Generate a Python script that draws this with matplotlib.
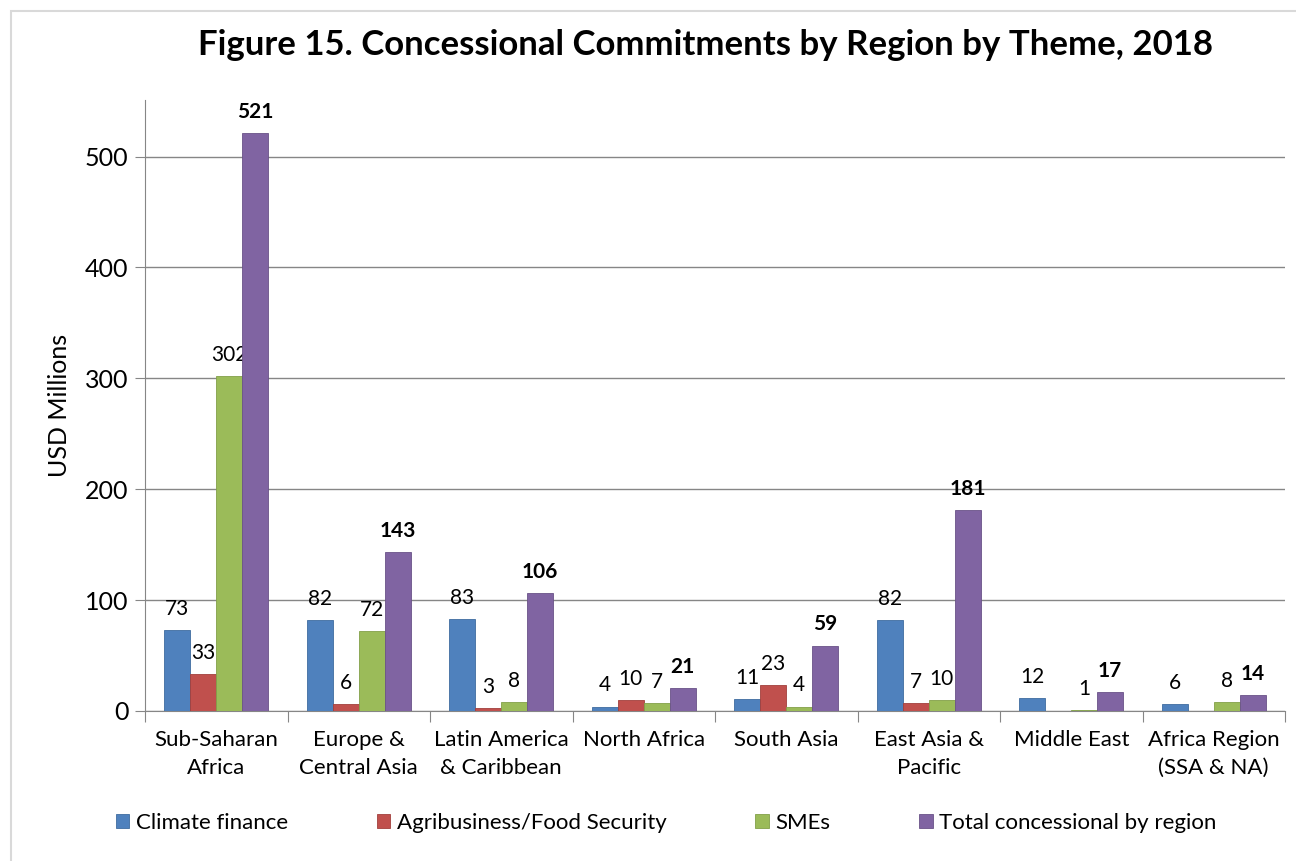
import numpy as np
from matplotlib import pyplot as plt
from matplotlib.patches import Rectangle

plt.rcParams['font.family'] = ['Lato', 'DejaVu Sans']

regions = ["Sub-Saharan\nAfrica", "Europe &\nCentral Asia", "Latin America\n& Caribbean",
           "North Africa", "South Asia", "East Asia &\nPacific", "Middle East",
           "Africa Region\n(SSA & NA)"]
series_names = ["Climate finance", "Agribusiness/Food Security", "SMEs",
                "Total concessional by region"]
climate = [73, 82, 83, 4, 11, 82, 12, 6]
agri = [33, 6, 3, 10, 23, 7, None, None]
smes = [302, 72, 8, 7, 4, 10, 1, 8]
total = [521, 143, 106, 21, 59, 181, 17, 14]
colors = ["#4F81BD", "#C0504D", "#9BBB59", "#8064A2"]
edges = ["#3F6C9F", "#A23F3C", "#82A048", "#6A5288"]

fig = plt.figure(figsize=(12.96, 8.61), dpi=100)
ax = fig.add_axes([145 / 1296, 1 - 711 / 861, 1140 / 1296, 611 / 861])

# light frame around the chart area
fig.patches.append(Rectangle((11 / 1296, -0.05), 1.1, 1.05 - 11 / 861,
                             transform=fig.transFigure, fill=False,
                             edgecolor="#D9D9D9", linewidth=1.5))

x = np.arange(len(regions))
w = 0.182
all_series = [climate, agri, smes, total]
for i, vals in enumerate(all_series):
    heights = [np.nan if v is None else v for v in vals]
    pos = x + (i - 1.5) * w
    ax.bar(pos, np.nan_to_num(heights), w, color=colors[i], edgecolor=edges[i],
           linewidth=0.6, label=series_names[i], zorder=3)
    for p, v in zip(pos, vals):
        if v is None:
            continue
        ax.annotate(str(v), (p, v), xytext=(0, 8), textcoords="offset points",
                    ha="center", va="bottom", fontsize=15,
                    fontweight="bold" if i == 3 else "normal")

ax.set_xlim(-0.5, len(regions) - 0.5)
ax.set_ylim(0, 551)
ax.set_yticks([0, 100, 200, 300, 400, 500])
ax.tick_params(axis="y", labelsize=18, length=7, color="#868686", pad=5)
ax.set_xticks(np.arange(len(regions) + 1) - 0.5)
ax.set_xticklabels([])
ax.set_xticks(x, minor=True)
ax.set_xticklabels(regions, minor=True, fontsize=16, linespacing=1.45)
ax.tick_params(axis="x", which="major", length=8, color="#868686")
ax.tick_params(axis="x", which="minor", length=0, pad=14)
ax.yaxis.grid(True, color="#868686", linewidth=1, zorder=0)
ax.set_axisbelow(True)
for s in ["top", "right"]:
    ax.spines[s].set_visible(False)
ax.spines["left"].set_color("#868686")
ax.spines["bottom"].set_color("#868686")
ax.set_ylabel("USD Millions", fontsize=18, labelpad=10)

fig.text(0.544, 1 - 45 / 861, "Figure 15. Concessional Commitments by Region by Theme, 2018",
         ha="center", va="center", fontsize=25, fontweight="bold")

fig.legend(loc="center", bbox_to_anchor=(0.514, 1 - 823 / 861), ncol=4, frameon=False,
           fontsize=16, handlelength=0.6, handleheight=0.6, handletextpad=0.3,
           columnspacing=4.0)

fig.savefig("out.png", dpi=100)
